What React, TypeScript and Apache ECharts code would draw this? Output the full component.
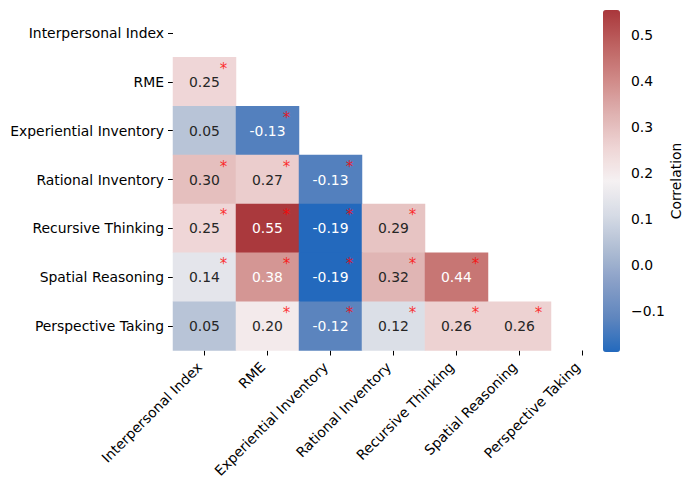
import React, { useEffect, useRef } from "react";
import * as echarts from "echarts";

const categories = [
  "Interpersonal Index",
  "RME",
  "Experiential Inventory",
  "Rational Inventory",
  "Recursive Thinking",
  "Spatial Reasoning",
  "Perspective Taking",
];

// lower-triangle correlations, row i, columns 0..i-1
const rowValues: number[][] = [
  [],
  [0.25],
  [0.05, -0.13],
  [0.3, 0.27, -0.13],
  [0.25, 0.55, -0.19, 0.29],
  [0.14, 0.38, -0.19, 0.32, 0.44],
  [0.05, 0.2, -0.12, 0.12, 0.26, 0.26],
];

// 1 = significant (asterisk)
const rowSignificant: number[][] = [
  [],
  [1],
  [0, 1],
  [1, 1, 1],
  [1, 1, 1, 1],
  [1, 1, 1, 1, 1],
  [0, 1, 1, 1, 1, 1],
];

const colorbarTicks = [-0.1, 0, 0.1, 0.2, 0.3, 0.4, 0.5];
const colorMin = -0.19;
const colorMax = 0.554;

const colorStops: number[][] = [
  [35, 105, 189],
  [95, 134, 190],
  [135, 158, 199],
  [175, 189, 211],
  [214, 219, 229],
  [245, 241, 242],
  [238, 212, 212],
  [222, 176, 175],
  [207, 136, 134],
  [189, 97, 96],
  [169, 55, 59],
];

const toHex = (c: number[]) =>
  "#" + c.map((v) => Math.round(v).toString(16).padStart(2, "0")).join("");

function colorAt(v: number): number[] {
  let t = (v - colorMin) / (colorMax - colorMin);
  t = Math.max(0, Math.min(1, t));
  const p = t * (colorStops.length - 1);
  const i = Math.min(colorStops.length - 2, Math.floor(p));
  const f = p - i;
  return colorStops[i].map((a, k) => a + (colorStops[i + 1][k] - a) * f);
}

function luminance(c: number[]) {
  const lin = c.map((x) => {
    const s = x / 255;
    return s <= 0.03928 ? s / 12.92 : Math.pow((s + 0.055) / 1.055, 2.4);
  });
  return 0.2126 * lin[0] + 0.7152 * lin[1] + 0.0722 * lin[2];
}

const FONT = "DejaVu Sans";

export default function App() {
  const ref = useRef<HTMLDivElement>(null);
  useEffect(() => {
    if (!ref.current) return;
    const chart = echarts.init(ref.current, null, { renderer: "svg" });

    const heatData: any[] = [];
    const starData: any[] = [];
    rowValues.forEach((row, i) => {
      row.forEach((v, j) => {
        const dark = luminance(colorAt(v)) > 0.408;
        heatData.push({
          value: [j, i, v],
          label: { color: dark ? "#262626" : "#ffffff" },
        });
        if (rowSignificant[i][j]) starData.push([j, i]);
      });
    });

    chart.setOption({
      animation: false,
      textStyle: { fontFamily: FONT },
      grid: [
        { left: 173, top: 8.5, width: 441, height: 342 },
        { left: 603, top: 10, width: 17, height: 342 },
      ],
      xAxis: [
        {
          gridIndex: 0,
          type: "category",
          data: categories,
          axisLine: { show: false },
          axisTick: { show: true, length: 5, alignWithLabel: true, lineStyle: { color: "#000" } },
          axisLabel: {
            rotate: 45,
            interval: 0,
            margin: 19,
            verticalAlign: "bottom",
            color: "#000",
            fontSize: 13.9,
            fontFamily: FONT,
          },
          splitLine: { show: false },
        },
        { gridIndex: 1, type: "value", show: false },
      ],
      yAxis: [
        {
          gridIndex: 0,
          type: "category",
          data: categories,
          inverse: true,
          axisLine: { show: false },
          axisTick: { show: true, length: 5, alignWithLabel: true, lineStyle: { color: "#000" } },
          axisLabel: {
            interval: 0,
            margin: 9,
            color: "#000",
            fontSize: 13.9,
            fontFamily: FONT,
          },
          splitLine: { show: false },
        },
        {
          gridIndex: 1,
          type: "value",
          min: colorMin,
          max: colorMax,
          position: "right",
          axisLine: { show: false },
          splitLine: { show: false },
          axisTick: {
            show: true,
            length: 5,
            customValues: colorbarTicks,
            lineStyle: { color: "#000" },
          },
          axisLabel: {
            customValues: colorbarTicks,
            margin: 11,
            color: "#000",
            fontSize: 13.9,
            fontFamily: FONT,
            formatter: (v: number) => (v < 0 ? "\u2212" + Math.abs(v).toFixed(1) : v.toFixed(1)),
          },
          name: "Correlation",
          nameLocation: "middle",
          nameRotate: 90,
          nameGap: 48,
          nameTextStyle: { color: "#000", fontSize: 13.9, fontFamily: FONT },
        },
      ],
      visualMap: {
        type: "continuous",
        seriesIndex: 0,
        min: colorMin,
        max: colorMax,
        show: true,
        calculable: false,
        orient: "vertical",
        left: 603,
        top: 10,
        itemWidth: 17,
        itemHeight: 342,
        padding: 0,
        text: ["", ""],
        hoverLink: false,
        inRange: { color: colorStops.map(toHex) },
      },
      series: [
        {
          type: "heatmap",
          xAxisIndex: 0,
          yAxisIndex: 0,
          data: heatData,
          label: {
            show: true,
            fontSize: 13.9,
            fontFamily: FONT,
            formatter: (p: any) => (p.value[2] as number).toFixed(2),
          },
          itemStyle: { borderWidth: 0 },
          emphasis: { disabled: true },
        },
        {
          type: "scatter",
          xAxisIndex: 0,
          yAxisIndex: 0,
          data: starData,
          symbolSize: 0,
          silent: true,
          label: {
            show: true,
            position: "inside",
            formatter: "*",
            color: "#ff0000",
            fontSize: 15,
            fontFamily: FONT,
            offset: [19, -13],
          },
          z: 5,
        },
      ],
    });
    return () => chart.dispose();
  }, []);
  return (
    <div
      ref={ref}
      style={{ position: "absolute", left: 0, top: 0, width: 693, height: 490 }}
    />
  );
}
